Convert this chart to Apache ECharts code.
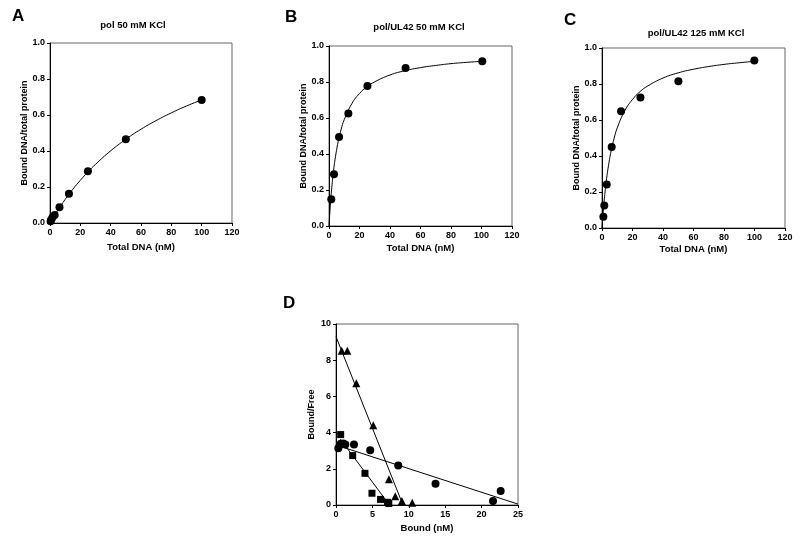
<!DOCTYPE html>
<html><head><meta charset="utf-8">
<script src="https://cdn.jsdelivr.net/npm/echarts@6/dist/echarts.min.js"></script>
<style>html,body{margin:0;padding:0;background:#fff}#c{width:800px;height:541px}</style>
</head><body><div id="c"></div>
<script>
// ---- Data ----
// Panel A: pol 50 mM KCl
const aX = [0.4, 0.8, 1.6, 3.1, 6.25, 12.5, 25, 50, 100];
const aY = [0.01, 0.018, 0.03, 0.045, 0.088, 0.163, 0.287, 0.465, 0.684];
const aCurveX = [0, 2, 5, 10, 15, 20, 25, 30, 40, 50, 60, 70, 80, 90, 100];
const aCurveY = [0, 0.028, 0.069, 0.131, 0.187, 0.237, 0.284, 0.326, 0.401, 0.465, 0.521, 0.569, 0.612, 0.650, 0.684];
// Panel B: pol/UL42 50 mM KCl
const bX = [1.5, 3.3, 6.6, 12.7, 25.2, 50.2, 100.5];
const bY = [0.148, 0.288, 0.495, 0.625, 0.778, 0.878, 0.915];
const bCurveX = [0, 1, 2, 3, 4, 6, 8, 10, 15, 20, 25, 30, 40, 50, 60, 70, 80, 90, 100];
const bCurveY = [0, 0.130, 0.229, 0.308, 0.371, 0.468, 0.538, 0.591, 0.680, 0.736, 0.774, 0.801, 0.839, 0.863, 0.880, 0.892, 0.902, 0.909, 0.915];
// Panel C: pol/UL42 125 mM KCl
const cX = [0.9, 1.5, 3.1, 6.35, 12.5, 25.2, 50.1, 99.9];
const cY = [0.063, 0.125, 0.242, 0.450, 0.648, 0.725, 0.815, 0.930];
const cCurveX = [0, 1, 2, 3, 4, 6, 8, 10, 15, 20, 25, 30, 40, 50, 60, 70, 80, 90, 100];
const cCurveY = [0, 0.111, 0.200, 0.273, 0.333, 0.429, 0.500, 0.556, 0.652, 0.714, 0.758, 0.789, 0.833, 0.862, 0.882, 0.897, 0.909, 0.918, 0.926];
// Panel D: Scatchard
const triX = [0.78, 1.55, 2.79, 5.12, 7.27, 8.14, 9.05, 10.47];
const triY = [8.52, 8.52, 6.72, 4.41, 1.42, 0.48, 0.22, 0.13];
const triLineX = [0, 9.2];
const triLineY = [9.3, 0];
const sqX = [0.64, 2.29, 3.98, 4.94, 6.12, 7.08, 7.25];
const sqY = [3.89, 2.73, 1.75, 0.65, 0.31, 0.15, 0.08];
const sqLineX = [0.6, 7.35];
const sqLineY = [3.64, 0];
const ciX = [0.32, 0.64, 1.0, 1.28, 2.47, 4.7, 8.55, 13.67, 21.57, 22.62];
const ciY = [3.14, 3.38, 3.4, 3.34, 3.34, 3.03, 2.18, 1.18, 0.22, 0.77];
const ciLineX = [0.5, 25];
const ciLineY = [3.25, 0.05];
// Axis ticks
const curveXTicks = {min: 0, max: 120, interval: 20};
const curveYTicks = {min: 0, max: 1, interval: 0.2};
const dXTicks = {min: 0, max: 25, interval: 5};
const dYTicks = {min: 0, max: 10, interval: 2};

const zip = (xs, ys) => xs.map((x, i) => [x, ys[i]]);
const FONT = 'Liberation Sans, Arial, Helvetica, sans-serif';

const grids = [
  {left: 50, top: 43, width: 182, height: 180},
  {left: 329, top: 46, width: 183, height: 180},
  {left: 602, top: 48, width: 183, height: 180},
  {left: 336, top: 324, width: 182, height: 181}
].map(g => Object.assign({show: true, borderColor: '#666', borderWidth: 1, backgroundColor: 'transparent'}, g));

function xAx(i, t, name, gap, dec) {
  return {type: 'value', gridIndex: i, min: t.min, max: t.max, interval: t.interval,
    name: name, nameLocation: 'middle', nameGap: gap,
    nameTextStyle: {fontFamily: FONT, fontWeight: 'bold', fontSize: 9.5, color: '#000'},
    axisLine: {show: true, lineStyle: {color: '#000', width: 1}},
    axisTick: {show: true, length: 3, inside: false, lineStyle: {color: '#000'}},
    axisLabel: {fontFamily: FONT, fontWeight: 'bold', fontSize: 9, color: '#000', margin: 5,
      formatter: v => dec ? v.toFixed(dec) : String(v)},
    splitLine: {show: false}};
}
function yAx(i, t, name, gap, dec) {
  const a = xAx(i, t, name, gap, dec);
  a.nameTextStyle.fontSize = 9;
  a.axisLabel.margin = 5;
  return a;
}

const xAxes = [
  xAx(0, curveXTicks, 'Total DNA (nM)', 19, 0),
  xAx(1, curveXTicks, 'Total DNA (nM)', 17, 0),
  xAx(2, curveXTicks, 'Total DNA (nM)', 16, 0),
  xAx(3, dXTicks, 'Bound (nM)', 18, 0)
];
const yAxes = [
  yAx(0, curveYTicks, 'Bound DNA/total protein', 21, 1),
  yAx(1, curveYTicks, 'Bound DNA/total protein', 20, 1),
  yAx(2, curveYTicks, 'Bound DNA/total protein', 20, 1),
  yAx(3, dYTicks, 'Bound/Free', 20, 0)
];

function scatter(i, data, symbol, size) {
  return {type: 'scatter', xAxisIndex: i, yAxisIndex: i, data: data, symbol: symbol,
    symbolSize: size, itemStyle: {color: '#000', opacity: 1}, silent: true, z: 3};
}
function line(i, data, smooth) {
  return {type: 'line', xAxisIndex: i, yAxisIndex: i, data: data, smooth: smooth, showSymbol: false,
    symbol: 'none', lineStyle: {color: '#000', width: 1}, silent: true, z: 2};
}

const titleStyle = {fontFamily: FONT, fontWeight: 'bold', fontSize: 9.5, color: '#000'};
const letterStyle = {fontFamily: FONT, fontWeight: 'bold', fontSize: 17, color: '#000'};
const titles = [
  {text: 'pol 50 mM KCl', left: 133, top: 20, textAlign: 'center', textStyle: titleStyle},
  {text: 'pol/UL42 50 mM KCl', left: 419, top: 22, textAlign: 'center', textStyle: titleStyle},
  {text: 'pol/UL42 125 mM KCl', left: 696, top: 28, textAlign: 'center', textStyle: titleStyle},
  {text: 'A', left: 12, top: 8, textStyle: letterStyle},
  {text: 'B', left: 285, top: 9, textStyle: letterStyle},
  {text: 'C', left: 564, top: 12, textStyle: letterStyle},
  {text: 'D', left: 283, top: 295, textStyle: letterStyle}
].map(t => Object.assign({padding: 0, itemGap: 0}, t));

const option = {
  animation: false,
  backgroundColor: '#fff',
  title: titles,
  grid: grids,
  xAxis: xAxes,
  yAxis: yAxes,
  series: [
    line(0, zip(aCurveX, aCurveY), true),
    scatter(0, zip(aX, aY), 'circle', 8),
    line(1, zip(bCurveX, bCurveY), true),
    scatter(1, zip(bX, bY), 'circle', 8),
    line(2, zip(cCurveX, cCurveY), true),
    scatter(2, zip(cX, cY), 'circle', 8),
    line(3, zip(triLineX, triLineY), false),
    line(3, zip(sqLineX, sqLineY), false),
    line(3, zip(ciLineX, ciLineY), false),
    scatter(3, zip(triX, triY), 'triangle', 8),
    scatter(3, zip(sqX, sqY), 'rect', 7),
    scatter(3, zip(ciX, ciY), 'circle', 8)
  ]
};
const chart = echarts.init(document.getElementById('c'), null, {renderer: 'canvas'});
chart.setOption(option);
</script></body></html>
